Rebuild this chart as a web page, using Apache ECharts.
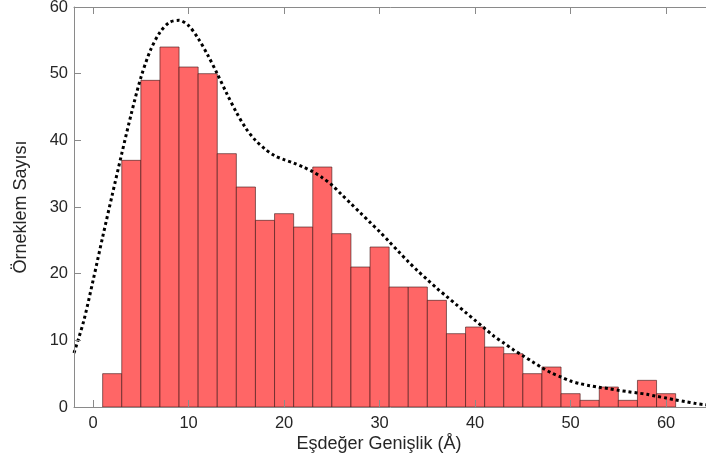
<!DOCTYPE html>
<html>
<head>
<meta charset="utf-8">
<script src="https://cdn.jsdelivr.net/npm/echarts@6/dist/echarts.min.js"></script>
<style>html,body{margin:0;padding:0;background:#fff;}#c{width:706px;height:463px;}</style>
</head>
<body>
<div id="c"></div>
<script>
// Histogram bins (bin width 2, starting at 1)
const binStarts = [1,3,5,7,9,11,13,15,17,19,21,23,25,27,29,31,33,35,37,39,41,43,45,47,49,51,53,55,57,59];
const binWidth = 2;
const counts = [5,37,49,54,51,50,38,33,28,29,27,36,26,21,24,18,18,16,11,12,9,8,5,6,2,1,3,1,4,2];
// Density fit curve (scaled to counts)
const curveX = [-2,-1,0,1,2,3,4,5,6,7,8,9,10,11,12,13,14,15,16,17,18,19,20,21,22,23,24,25,26,27,28,29,30,31,32,33,34,35,36,37,38,39,40,41,42,43,44,45,46,47,48,49,50,51,52,53,54,55,56,57,58,59,60,61,62,63,64,65,66];
const curveY = [8.1,12.8,19,25.5,31.8,38,44,49.4,53.5,56.2,57.7,58,57.2,55.3,52.8,50,47,44.2,41.8,40,38.7,37.7,37.1,36.6,36,35.3,34.4,33.3,31.9,30.5,29.1,27.7,26.3,24.8,23.3,21.8,20.4,19.1,17.8,16.6,15.4,14.2,13,11.8,10.6,9.6,8.6,7.7,6.8,5.9,5.1,4.5,3.9,3.5,3.2,2.95,2.75,2.5,2.3,2.1,1.9,1.6,1.35,1.05,0.8,0.55,0.35,0.2,0.1];
const xMin = -2, xMax = 66;
const yMin = 0, yMax = 60, yStep = 10;
const xTitle = 'Eşdeğer Genişlik (Å)';
const yTitle = 'Örneklem Sayısı';

const histData = binStarts.map((s, i) => [s, s + binWidth, counts[i]]);
const curveData = curveX.map((x, i) => [x, curveY[i]]);

const font = '"Liberation Sans", Arial, Helvetica, sans-serif';
const axisGray = '#8a8a8a';
const labelColor = '#262626';

function xAxisCfg(pos, showLabels) {
  return {
    type: 'value', min: xMin, max: xMax, position: pos, splitNumber: 6,
    axisLine: {show: true, onZero: false, lineStyle: {color: axisGray, width: 1}},
    axisTick: {show: true, inside: true, length: 7, lineStyle: {color: axisGray, width: 1}},
    axisLabel: {show: showLabels, margin: 8, color: labelColor, fontSize: 16.5, fontFamily: font,
                showMinLabel: false, showMaxLabel: false},
    splitLine: {show: false},
    z: 5
  };
}

const chart = echarts.init(document.getElementById('c'), null, {renderer: 'canvas'});
chart.setOption({
  animation: false,
  backgroundColor: '#fff',
  grid: {left: 74, top: 7, width: 649.4, height: 400, containLabel: false,
         outerBoundsMode: 'none', show: false},
  xAxis: [xAxisCfg('bottom', true), xAxisCfg('top', false)],
  yAxis: [{
    type: 'value', min: yMin, max: yMax, interval: yStep, position: 'left',
    axisLine: {show: true, onZero: false, lineStyle: {color: axisGray, width: 1}},
    axisTick: {show: true, inside: true, length: 7, lineStyle: {color: axisGray, width: 1}},
    axisLabel: {show: true, margin: 6, color: labelColor, fontSize: 16.5, fontFamily: font},
    splitLine: {show: false},
    z: 5
  }],
  series: [{
    type: 'custom',
    xAxisIndex: 0, yAxisIndex: 0,
    clip: true,
    data: histData,
    encode: {x: [0, 1], y: 2},
    renderItem: function (params, api) {
      const p0 = api.coord([api.value(0), 0]);
      const p1 = api.coord([api.value(1), api.value(2)]);
      return {
        type: 'rect',
        shape: {x: p0[0], y: p1[1], width: p1[0] - p0[0], height: p0[1] - p1[1]},
        style: {fill: '#ff6666', stroke: 'rgba(60,20,20,0.6)', lineWidth: 1}
      };
    },
    z: 2
  }, {
    type: 'line',
    xAxisIndex: 1, yAxisIndex: 0,
    data: curveData,
    smooth: 0.3,
    symbol: 'none',
    clip: true,
    lineStyle: {color: '#000', width: 3, type: [3, 3], cap: 'butt'},
    z: 3
  }],
  graphic: [{
    type: 'text', x: 379, y: 444,
    style: {text: xTitle, font: '18px ' + font, fill: labelColor, textAlign: 'center', textVerticalAlign: 'middle'}
  }, {
    type: 'text', x: 21, y: 207, rotation: Math.PI / 2,
    style: {text: yTitle, font: '18px ' + font, fill: labelColor, textAlign: 'center', textVerticalAlign: 'middle'}
  }]
});
</script>
</body>
</html>
